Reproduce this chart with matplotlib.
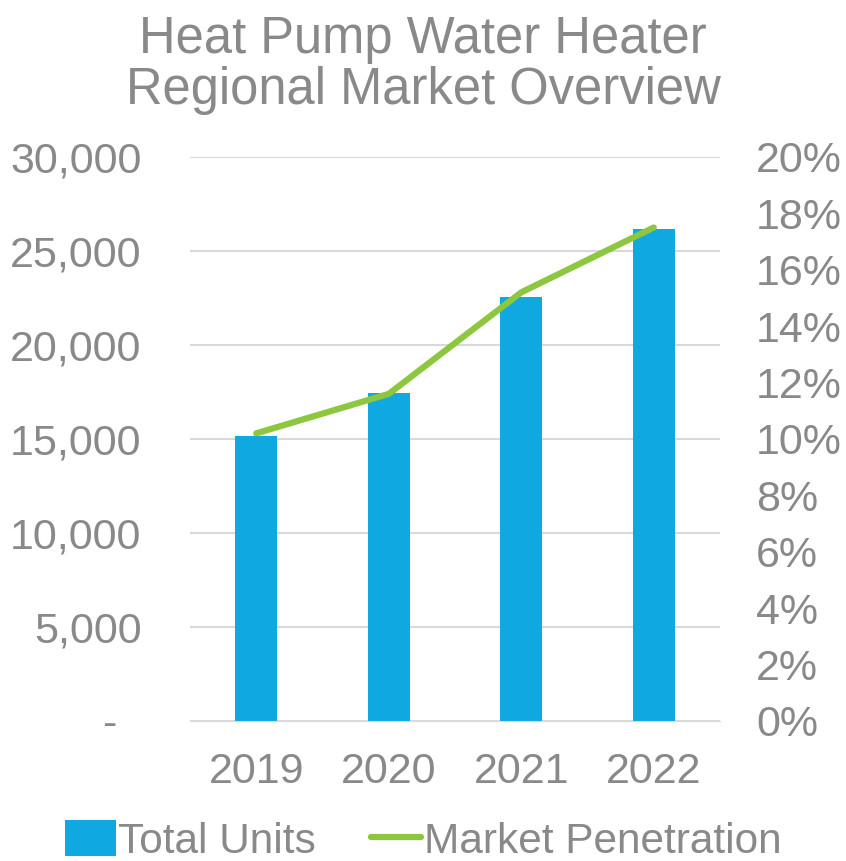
import numpy as np
import matplotlib.pyplot as plt
from matplotlib.ticker import FuncFormatter

plt.rcParams['font.family'] = ['Liberation Sans', 'DejaVu Sans']

years = ["2019", "2020", "2021", "2022"]
total_units = [15180, 17430, 22570, 26170]
penetration = [10.2, 11.6, 15.2, 17.5]  # percent

GRAY = "#898989"
BLUE = "#10A8E0"
GREEN = "#8DC63F"

fig = plt.figure(figsize=(8.46, 8.61), dpi=100)
ax = fig.add_axes([190 / 846, 1 - 721 / 861, 530 / 846, 564 / 861])
x = np.arange(len(years))

ax.bar(x, total_units, width=0.32, color=BLUE, label="Total Units", zorder=2)
ax.set_ylim(0, 30000)
ax.set_yticks(np.arange(0, 30001, 5000))
ax.yaxis.set_major_formatter(FuncFormatter(lambda v, p: "-  " if v == 0 else f"{int(v):,}"))
ax.set_xlim(-0.5, 3.5)
ax.set_xticks(x)
ax.set_xticklabels(years)
ax.grid(axis="y", color="#D9D9D9", linewidth=1.5, zorder=0)
for s in ax.spines.values():
    s.set_visible(False)
ax.spines["bottom"].set_visible(True)
ax.spines["bottom"].set_color("#D9D9D9")
ax.tick_params(axis="both", length=0, labelsize=31, labelcolor=GRAY)
ax.tick_params(axis="y", pad=35)
ax.tick_params(axis="x", pad=22)

ax2 = ax.twinx()
ax2.plot(x, penetration, color=GREEN, linewidth=4.5, solid_capstyle="round",
         label="Market Penetration", zorder=3)
ax2.set_ylim(0, 20)
ax2.set_yticks(np.arange(0, 21, 2))
ax2.yaxis.set_major_formatter(FuncFormatter(lambda v, p: f"{int(v)}%"))
for s in ax2.spines.values():
    s.set_visible(False)
ax2.tick_params(axis="y", length=0, labelsize=31, labelcolor=GRAY, pad=26)

fig.text(0.5, 0.982, "Heat Pump Water Heater\nRegional Market Overview",
         ha="center", va="top", fontsize=36.5, color=GRAY, linespacing=1.03)

h1, l1 = ax.get_legend_handles_labels()
h2, l2 = ax2.get_legend_handles_labels()
fig.legend(h1 + h2, l1 + l2, loc="lower center", bbox_to_anchor=(0.5, -0.045),
           ncol=2, frameon=False, fontsize=30.5, labelcolor=GRAY,
           handlelength=1.2, handleheight=0.9, handletextpad=0.05, columnspacing=1.3)

fig.savefig("out.png", dpi=100)
